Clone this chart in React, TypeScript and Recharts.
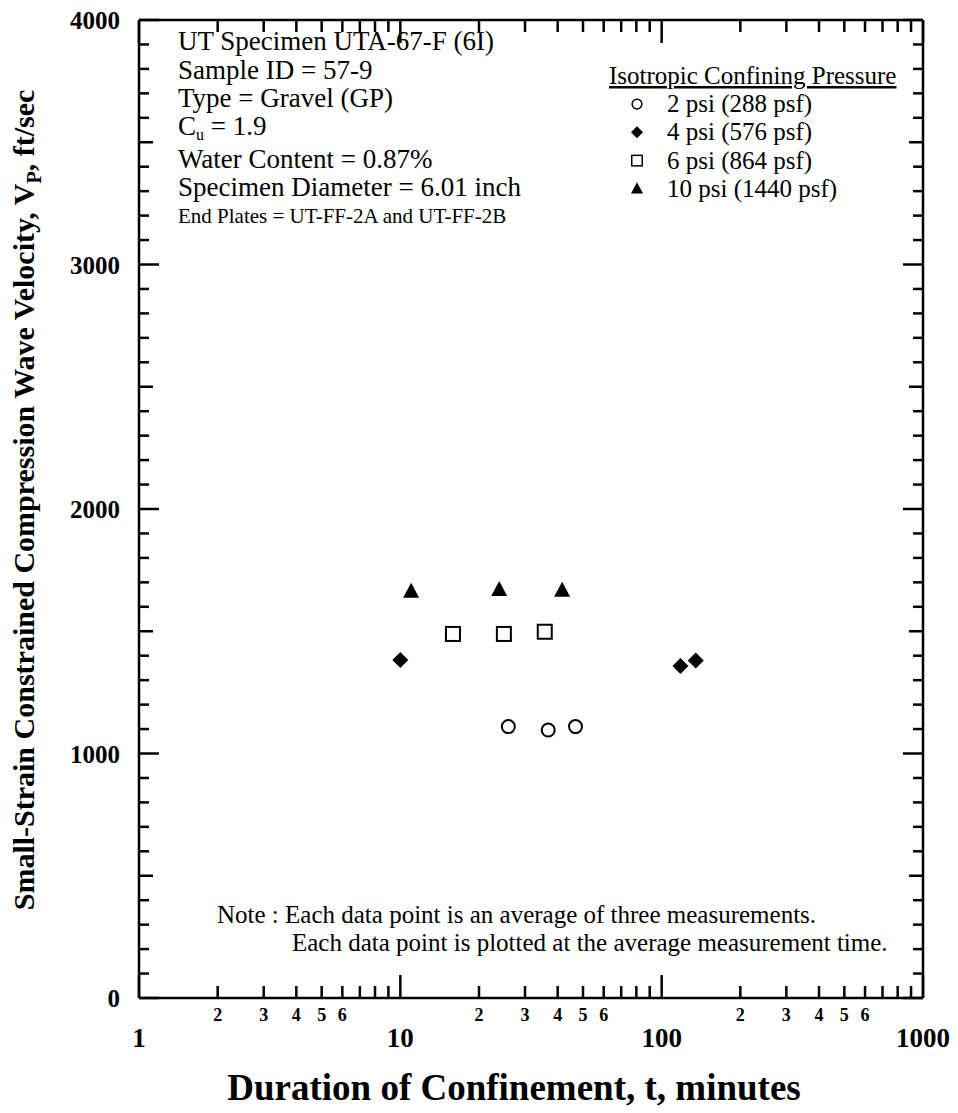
import { ScatterChart, Scatter, XAxis, YAxis, Customized } from 'recharts';

// Duration of confinement (minutes) and Vp (ft/sec) for each confining pressure
const t2psi = [25.9, 36.8, 46.8];
const vp2psi = [1110, 1096, 1110];
const t4psi = [10, 118, 135];
const vp4psi = [1382, 1358, 1380];
const t6psi = [15.9, 24.9, 35.7];
const vp6psi = [1489, 1489, 1498];
const t10psi = [11, 23.9, 41.6];
const vp10psi = [1662, 1669, 1666];

const legendLabels = ['2 psi (288 psf)', '4 psi (576 psf)', '6 psi (864 psf)', '10 psi (1440 psf)'];

const xTicks = [
  1, 2, 3, 4, 5, 6, 7, 8, 9,
  10, 20, 30, 40, 50, 60, 70, 80, 90,
  100, 200, 300, 400, 500, 600, 700, 800, 900,
  1000,
];
const xMajor = [1, 10, 100, 1000];
const xMinorLabeled = [2, 3, 4, 5, 6, 20, 30, 40, 50, 60, 200, 300, 400, 500, 600];
const yTicks = Array.from({ length: 41 }, (_, i) => i * 100);
const yLabeled = [0, 1000, 2000, 3000, 4000];

const infoLines = [
  'UT Specimen UTA-67-F (6I)',
  'Sample ID = 57-9',
  'Type = Gravel  (GP)',
  'Water Content = 0.87%',
  'Specimen Diameter = 6.01 inch',
];

const FONT = '"Liberation Serif", "Times New Roman", serif';
const W = 958;
const H = 1113;

const toRows = (xs: number[], ys: number[]) => xs.map((t, i) => ({ t, vp: ys[i] }));

type Pt = { cx?: number; cy?: number };

const Circle = ({ cx = 0, cy = 0 }: Pt) => (
  <circle cx={cx} cy={cy} r={6.5} fill="#fff" stroke="#000" strokeWidth={2} />
);
const Diamond = ({ cx = 0, cy = 0 }: Pt) => (
  <polygon points={`${cx},${cy - 8} ${cx + 8},${cy} ${cx},${cy + 8} ${cx - 8},${cy}`} fill="#000" />
);
const Square = ({ cx = 0, cy = 0 }: Pt) => (
  <rect x={cx - 7} y={cy - 7} width={14} height={14} fill="#fff" stroke="#000" strokeWidth={2} />
);
const Triangle = ({ cx = 0, cy = 0 }: Pt) => (
  <polygon points={`${cx},${cy - 9} ${cx + 8},${cy + 6} ${cx - 8},${cy + 6}`} fill="#000" />
);

const isMajorX = (v: number) => xMajor.includes(v);

function BottomTick({ x, y, payload }: any) {
  const v = payload.value;
  const len = isMajorX(v) ? 23 : 12;
  return (
    <g>
      <line x1={x} x2={x} y1={y} y2={y - len} stroke="#000" strokeWidth={2.5} />
      {isMajorX(v) && (
        <text x={x} y={y + 49} textAnchor="middle" fontFamily={FONT} fontWeight="bold" fontSize={27}>
          {v}
        </text>
      )}
      {xMinorLabeled.includes(v) && (
        <text x={x} y={y + 23} textAnchor="middle" fontFamily={FONT} fontWeight="bold" fontSize={18}>
          {String(v)[0]}
        </text>
      )}
    </g>
  );
}

function TopTick({ x, y, payload }: any) {
  const len = isMajorX(payload.value) ? 23 : 12;
  return <line x1={x} x2={x} y1={y} y2={y + len} stroke="#000" strokeWidth={2.5} />;
}

const yLen = (v: number) => (v % 1000 === 0 ? 20 : v % 500 === 0 ? 14 : 10);

function LeftTick({ x, y, payload }: any) {
  const v = payload.value;
  return (
    <g>
      <line x1={x} x2={x + yLen(v)} y1={y} y2={y} stroke="#000" strokeWidth={2.5} />
      {yLabeled.includes(v) && (
        <text x={x - 19} y={y + 9} textAnchor="end" fontFamily={FONT} fontWeight="bold" fontSize={25}>
          {v}
        </text>
      )}
    </g>
  );
}

function RightTick({ x, y, payload }: any) {
  return <line x1={x} x2={x - yLen(payload.value)} y1={y} y2={y} stroke="#000" strokeWidth={2.5} />;
}

function Annotations() {
  const legendShapes = [Circle, Diamond, Square, Triangle];
  return (
    <g fontFamily={FONT} fill="#000">
      {/* specimen info block */}
      <text fontSize={27}>
        <tspan x={178} y={50}>{infoLines[0]}</tspan>
        <tspan x={178} y={78.5}>{infoLines[1]}</tspan>
        <tspan x={178} y={107}>{infoLines[2]}</tspan>
      </text>
      <text x={178} y={135} fontSize={27}>
        C<tspan fontSize={16} dy={5}>u</tspan>
        <tspan dy={-5}> = 1.9</tspan>
      </text>
      <text fontSize={27}>
        <tspan x={178} y={168}>{infoLines[3]}</tspan>
        <tspan x={178} y={196}>{infoLines[4]}</tspan>
      </text>
      <text x={178} y={223} fontSize={21}>End Plates = UT-FF-2A and UT-FF-2B</text>

      {/* legend */}
      <text x={609} y={84} fontSize={25} textDecoration="underline">Isotropic Confining Pressure</text>
      {legendLabels.map((label, i) => {
        const Shape = legendShapes[i];
        const cy = 104 + i * 28.3;
        return (
          <g key={label}>
            <g transform={`translate(${637} ${cy}) scale(0.75) translate(${-637} ${-cy})`}>
              <Shape cx={637} cy={cy} />
            </g>
            <text x={667} y={cy + 8} fontSize={25}>{label}</text>
          </g>
        );
      })}

      {/* note */}
      <text x={217} y={923} fontSize={25}>Note : Each data point is an average of three measurements.</text>
      <text x={292} y={951} fontSize={25}>Each data point is plotted at the average measurement time.</text>

      {/* axis titles */}
      <text x={514} y={1100} textAnchor="middle" fontSize={37} fontWeight="bold">
        Duration of Confinement, t, minutes
      </text>
      <text
        transform="translate(34 500) rotate(-90)"
        textAnchor="middle"
        fontSize={30}
        fontWeight="bold"
      >
        Small-Strain Constrained Compression Wave Velocity, V
        <tspan fontSize={20} dy={7}>P</tspan>
        <tspan dy={-7}>, ft/sec</tspan>
      </text>
    </g>
  );
}

export default function App() {
  const axisLine = { stroke: '#000', strokeWidth: 2.5 };
  const common = {
    type: 'number' as const,
    dataKey: 't',
    scale: 'log' as const,
    domain: [1, 1000],
    ticks: xTicks,
    interval: 0,
    allowDataOverflow: true,
    tickLine: false,
    tickSize: 0,
    tickMargin: 0,
    axisLine,
  };
  const commonY = {
    type: 'number' as const,
    dataKey: 'vp',
    domain: [0, 4000],
    ticks: yTicks,
    interval: 0,
    allowDataOverflow: true,
    tickLine: false,
    tickSize: 0,
    tickMargin: 0,
    axisLine,
  };
  return (
    <div style={{ position: 'absolute', left: 0, top: 0, background: '#fff' }}>
      <ScatterChart width={W} height={H} margin={{ top: 0, right: 0, bottom: 0, left: 0 }}>
        <XAxis {...common} xAxisId="b" orientation="bottom" height={115} tick={<BottomTick />} />
        <XAxis {...common} xAxisId="t" orientation="top" height={20} tick={<TopTick />} />
        <YAxis {...commonY} yAxisId="l" orientation="left" width={139} tick={<LeftTick />} />
        <YAxis {...commonY} yAxisId="r" orientation="right" width={35} tick={<RightTick />} />
        <Scatter xAxisId="b" yAxisId="l" data={toRows(t2psi, vp2psi)} shape={<Circle />} isAnimationActive={false} />
        <Scatter xAxisId="b" yAxisId="l" data={toRows(t4psi, vp4psi)} shape={<Diamond />} isAnimationActive={false} />
        <Scatter xAxisId="b" yAxisId="l" data={toRows(t6psi, vp6psi)} shape={<Square />} isAnimationActive={false} />
        <Scatter xAxisId="b" yAxisId="l" data={toRows(t10psi, vp10psi)} shape={<Triangle />} isAnimationActive={false} />
        <Customized component={<Annotations />} />
      </ScatterChart>
    </div>
  );
}
